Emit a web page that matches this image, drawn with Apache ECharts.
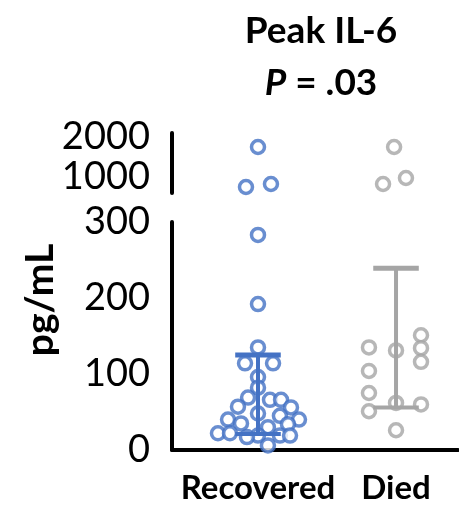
<!DOCTYPE html>
<html>
<head>
<meta charset="utf-8">
<script src="https://cdn.jsdelivr.net/npm/echarts@6/dist/echarts.min.js"></script>
<style>
html,body{margin:0;padding:0;background:#fff;}
#chart{width:459px;height:505px;}
</style>
</head>
<body>
<div id="chart"></div>
<script>
// ---- data ----
const categories = ['Recovered', 'Died'];
const lowerTicks = [0, 100, 200, 300];
const upperTicks = [1000, 2000];
const recoveredValues = [1750, 825, 750, 283, 192, 135, 114, 114, 96, 82, 69, 66, 66, 57, 56, 48, 45, 40, 40, 35, 34, 30, 22, 22, 19, 19, 19, 17, 6];
const recoveredJitter = [0, 0.094, -0.087, 0, 0, 0, -0.094, 0.109, 0, 0, -0.072, 0.087, 0.167, -0.145, 0.239, 0, 0.159, -0.217, 0.297, -0.123, 0.217, 0.072, -0.29, -0.203, 0, 0.159, 0.232, -0.08, 0.072];
const diedValues = [1750, 825, 975, 135, 104, 75, 51, 131, 62, 26, 151, 134, 116, 60];
const diedJitter = [-0.014, -0.094, 0.072, -0.196, -0.196, -0.196, -0.196, 0, 0, 0, 0.181, 0.181, 0.181, 0.181];
const recoveredBar = [125, 21];   // [upper, lower]
const diedBar = [239, 56];

const BLUE = '#4472C4', GRAY = '#A5A5A5';
const FONT = 'Lato';
const BREAK = 300;

function pts(values, jitter, center, upper) {
  const out = [];
  values.forEach((v, i) => {
    if ((v > BREAK) === upper) out.push([center + jitter[i], v]);
  });
  return out;
}

const chart = echarts.init(document.getElementById('chart'));
const xAxisBase = { type: 'value', min: -0.623, max: 1.449, splitLine: { show: false }, axisTick: { show: false } };
const scatterStyle = (c) => ({ color: '#fff', borderColor: c, borderWidth: 3.5 });
const yLabel = { fontFamily: FONT, fontSize: 38, color: '#000', margin: 22, formatter: (v) => String(v) };

chart.setOption({
  animation: false,
  title: {
    text: 'Peak IL-6\n{i|P} = .03',
    left: 316, top: 0, textAlign: 'center',
    textStyle: {
      fontFamily: FONT, fontWeight: 'bold', fontSize: 37, color: '#000', lineHeight: 52,
      rich: { i: { fontFamily: FONT, fontWeight: 'bold', fontStyle: 'italic', fontSize: 37, color: '#000', lineHeight: 52 } }
    }
  },
  graphic: [{
    type: 'text', x: 40, y: 300, rotation: Math.PI / 2,
    style: { text: 'pg/mL', fontFamily: FONT, fontWeight: 'bold', fontSize: 39, fill: '#000', align: 'center', verticalAlign: 'middle' }
  }],
  grid: [
    { left: 172, right: 1, top: 222, height: 231 },
    { left: 172, right: 1, top: 133, height: 60 }
  ],
  xAxis: [
    Object.assign({}, xAxisBase, {
      gridIndex: 0,
      axisLine: { show: true, onZero: false, lineStyle: { color: '#000', width: 4 } },
      axisLabel: {
        customValues: [0, 1], formatter: (v) => categories[Math.round(v)],
        fontFamily: FONT, fontWeight: 'bold', fontSize: 33, color: '#000', margin: 22
      }
    }),
    Object.assign({}, xAxisBase, { gridIndex: 1, show: false })
  ],
  yAxis: [
    {
      type: 'value', gridIndex: 0, min: 0, max: 300, interval: 100,
      splitLine: { show: false }, axisTick: { show: false },
      axisLine: { show: true, onZero: false, lineStyle: { color: '#000', width: 4 } },
      axisLabel: Object.assign({ customValues: lowerTicks }, yLabel)
    },
    {
      type: 'value', gridIndex: 1, min: 600, max: 2100,
      splitLine: { show: false }, axisTick: { show: false },
      axisLine: { show: true, onZero: false, lineStyle: { color: '#000', width: 4 } },
      axisLabel: Object.assign({ customValues: upperTicks }, yLabel)
    }
  ],
  series: [
    { type: 'scatter', xAxisIndex: 0, yAxisIndex: 0, symbol: 'circle', symbolSize: 13, itemStyle: scatterStyle(BLUE), data: pts(recoveredValues, recoveredJitter, 0, false) },
    { type: 'scatter', xAxisIndex: 1, yAxisIndex: 1, symbol: 'circle', symbolSize: 13, itemStyle: scatterStyle(BLUE), data: pts(recoveredValues, recoveredJitter, 0, true) },
    { type: 'scatter', xAxisIndex: 0, yAxisIndex: 0, symbol: 'circle', symbolSize: 13, itemStyle: scatterStyle(GRAY), data: pts(diedValues, diedJitter, 1, false) },
    { type: 'scatter', xAxisIndex: 1, yAxisIndex: 1, symbol: 'circle', symbolSize: 13, itemStyle: scatterStyle(GRAY), data: pts(diedValues, diedJitter, 1, true) },
    {
      type: 'custom', xAxisIndex: 0, yAxisIndex: 0, z: 5,
      data: [[0, recoveredBar[0], recoveredBar[1]], [1, diedBar[0], diedBar[1]]],
      renderItem: function (params, api) {
        const x = api.value(0);
        const c = params.dataIndex === 0 ? BLUE : GRAY;
        const top = api.coord([x, api.value(1)]);
        const bot = api.coord([x, api.value(2)]);
        const hw = api.size([0.165, 0])[0];
        return {
          type: 'group',
          children: [
            { type: 'line', shape: { x1: top[0], y1: top[1], x2: bot[0], y2: bot[1] }, style: { stroke: c, lineWidth: 4 } },
            { type: 'line', shape: { x1: top[0] - hw, y1: top[1], x2: top[0] + hw, y2: top[1] }, style: { stroke: c, lineWidth: 5 } },
            { type: 'line', shape: { x1: bot[0] - hw, y1: bot[1], x2: bot[0] + hw, y2: bot[1] }, style: { stroke: c, lineWidth: 4 } }
          ]
        };
      }
    }
  ]
});
</script>
</body>
</html>
